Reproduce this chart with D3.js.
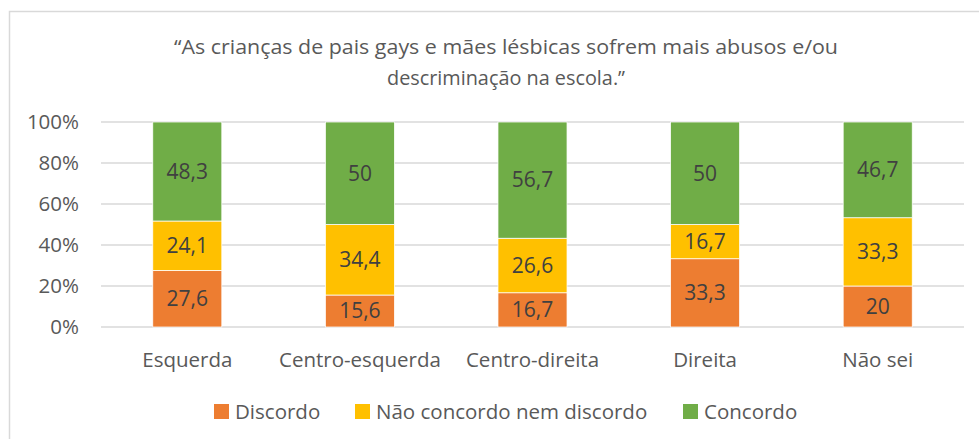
<!DOCTYPE html>
<html lang="pt">
<head>
    <meta charset="UTF-8">
    <title>Stacked 100% bar chart</title>
    <script src="https://d3js.org/d3.v7.min.js"></script>
    <style>
        body { margin: 0; background: #fff; }
        svg { display: block; font-family: "Open Sans", "Noto Sans", sans-serif; }
        .grid line { stroke: #d9d9d9; stroke-width: 1.5px; }
        .axis-label { fill: #595959; }
        .bar-label { fill: #404040; }
    </style>
</head>
<body>
    <svg id="chart"></svg>

    <script>
        // Data
        const categories = ["Esquerda", "Centro-esquerda", "Centro-direita", "Direita", "Não sei"];
        const seriesNames = ["Discordo", "Não concordo nem discordo", "Concordo"];
        const discordo = [27.6, 15.6, 16.7, 33.3, 20];
        const neutro = [24.1, 34.4, 26.6, 16.7, 33.3];
        const concordo = [48.3, 50, 56.7, 50, 46.7];
        const yTicks = [0, 20, 40, 60, 80, 100];
        const titleLines = ["\u201CAs crianças de pais gays e mães lésbicas sofrem mais abusos e/ou",
                            "descriminação na escola.\u201D"];

        const colors = ["#ED7D31", "#FFC000", "#70AD47"];
        const width = 979, height = 439;

        const svg = d3.select("#chart")
            .attr("width", width)
            .attr("height", height);

        // outer chart border
        svg.append("rect")
            .attr("x", 9.5).attr("y", 11.5)
            .attr("width", 1000).attr("height", 500)
            .attr("fill", "#fff")
            .attr("stroke", "#d9d9d9")
            .attr("stroke-width", 1.5);

        // title
        const title = svg.append("g").attr("class", "axis-label");
        title.selectAll("text")
            .data(titleLines)
            .enter().append("text")
            .attr("x", 506)
            .attr("y", (d, i) => 54 + i * 31)
            .attr("text-anchor", "middle")
            .attr("font-size", 20.5)
            .attr("textLength", (d, i) => i === 0 ? 664 : 238)
            .attr("lengthAdjust", "spacingAndGlyphs")
            .text(d => d);

        // Scales
        const x = d3.scaleBand()
            .domain(categories)
            .range([101, 964])
            .paddingInner(0.6)
            .paddingOuter(0.3);

        const y = d3.scaleLinear()
            .domain([0, 100])
            .range([327, 122]);

        // gridlines
        svg.append("g")
            .attr("class", "grid")
            .selectAll("line")
            .data(yTicks)
            .enter().append("line")
            .attr("x1", 101).attr("x2", 964)
            .attr("y1", d => y(d)).attr("y2", d => y(d));

        // y axis labels
        svg.append("g")
            .selectAll("text")
            .data(yTicks)
            .enter().append("text")
            .attr("class", "axis-label")
            .attr("x", 79)
            .attr("y", d => y(d))
            .attr("dy", "0.35em")
            .attr("text-anchor", "end")
            .attr("font-size", 20.5)
            .text(d => d + "%");

        // stack data
        const rows = categories.map((c, i) => ({
            cat: c,
            "Discordo": discordo[i],
            "Não concordo nem discordo": neutro[i],
            "Concordo": concordo[i]
        }));
        const stacked = d3.stack().keys(seriesNames)(rows);

        const layer = svg.selectAll(".layer")
            .data(stacked)
            .enter().append("g")
            .attr("class", "layer")
            .attr("fill", (d, i) => colors[i]);

        layer.selectAll("rect")
            .data(d => d)
            .enter().append("rect")
            .attr("x", d => x(d.data.cat))
            .attr("width", x.bandwidth())
            .attr("y", d => y(d[1]))
            .attr("height", d => y(d[0]) - y(d[1]))
            .attr("stroke", "#fff")
            .attr("stroke-width", 0.75);

        layer.selectAll("text")
            .data((d, i) => d.map(p => ({ p, key: d.key })))
            .enter().append("text")
            .attr("class", "bar-label")
            .attr("x", d => x(d.p.data.cat) + x.bandwidth() / 2)
            .attr("y", d => (y(d.p[0]) + y(d.p[1])) / 2)
            .attr("dy", "0.35em")
            .attr("text-anchor", "middle")
            .attr("font-size", 21)
            .text(d => String(d.p.data[d.key]).replace(".", ","));

        // category labels
        svg.append("g")
            .selectAll("text")
            .data(categories)
            .enter().append("text")
            .attr("class", "axis-label")
            .attr("x", d => x(d) + x.bandwidth() / 2)
            .attr("y", 360)
            .attr("dy", "0.35em")
            .attr("text-anchor", "middle")
            .attr("font-size", 20.5)
            .text(d => d);

        // legend
        const legendX = [214, 355, 683];
        const legend = svg.append("g")
            .selectAll("g")
            .data(seriesNames)
            .enter().append("g")
            .attr("transform", (d, i) => `translate(${legendX[i]},404)`);

        legend.append("rect")
            .attr("width", 15).attr("height", 15)
            .attr("fill", (d, i) => colors[i]);

        legend.append("text")
            .attr("class", "axis-label")
            .attr("x", 21)
            .attr("y", 8)
            .attr("dy", "0.35em")
            .attr("font-size", 20.5)
            .text(d => d);
    </script>
</body>
</html>
